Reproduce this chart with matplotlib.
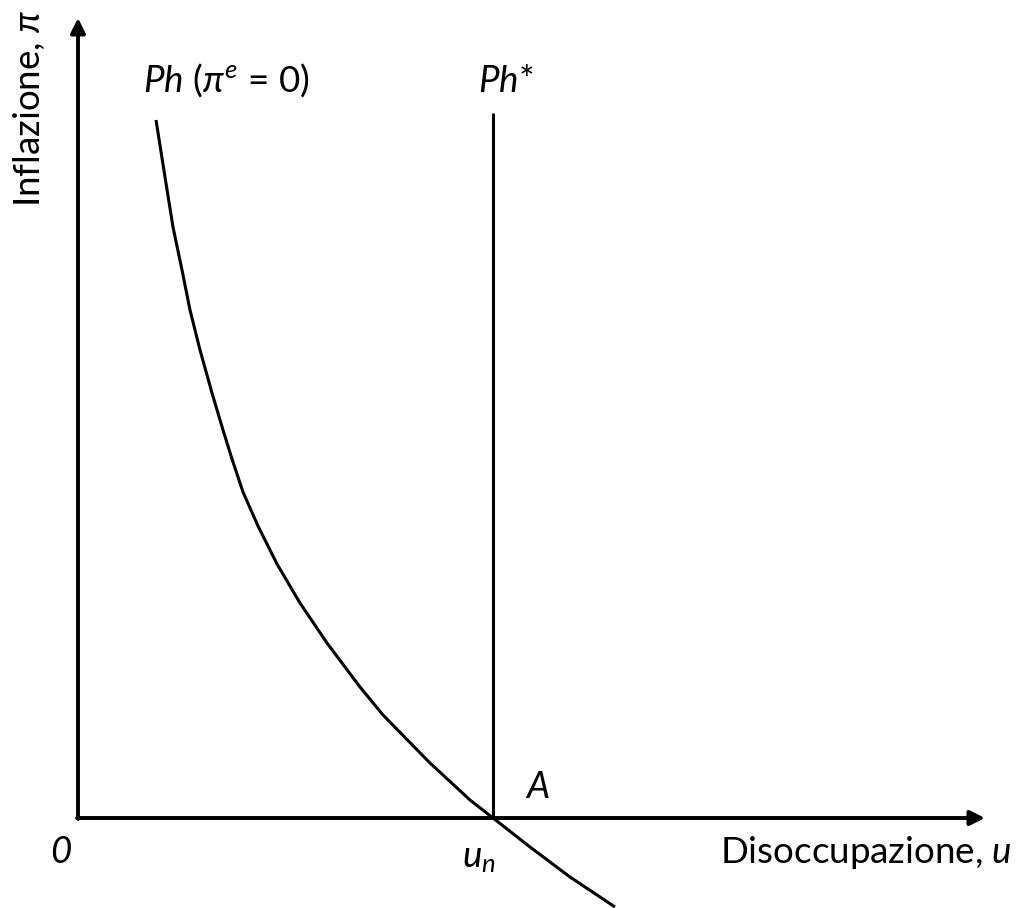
import matplotlib
matplotlib.use("Agg")
import matplotlib.pyplot as plt

# Police proche de Calibri
plt.rcParams['font.family'] = ['Lato', 'DejaVu Sans']
plt.rcParams['mathtext.fontset'] = 'custom'
plt.rcParams['mathtext.rm'] = 'Lato'
plt.rcParams['mathtext.it'] = 'Lato:italic'
plt.rcParams['mathtext.fallback'] = 'stix'

# Courbe de Phillips (pi^e = 0)
ph_u = [78, 87, 95, 104, 112, 122, 134, 145, 154, 165, 180, 199, 222, 249,
        282, 305, 352, 392, 415, 452, 492, 537]
ph_pi = [698, 641, 591, 548, 508, 468, 425, 388, 359, 326, 292, 254, 215, 175,
         131, 103, 55, 18, 0, -29, -59, -89]

# Courbe de long terme Ph* (verticale en u_n)
u_n = 415
ph_star_top = 705

# Axes
u_max = 907
pi_max = 800

fig = plt.figure(figsize=(10.18, 9.08), dpi=100)
ax = fig.add_axes([0, 0, 1, 1])
ax.set_xlim(-78, 940)
ax.set_ylim(-90, 818)
ax.axis('off')

arrow = dict(arrowstyle='-|>', color='black', lw=2.8, mutation_scale=22, shrinkA=0, shrinkB=0)
ax.annotate('', xy=(u_max, 0), xytext=(-1, 0), arrowprops=arrow)
ax.annotate('', xy=(0, pi_max), xytext=(0, -1), arrowprops=arrow)

ax.plot(ph_u, ph_pi, color='black', lw=2.2, solid_capstyle='butt', solid_joinstyle='round')
ax.plot([u_n, u_n], [0, ph_star_top], color='black', lw=2.2, solid_capstyle='butt')

fs = 26.5
ax.text(65, 726, r'$Ph$ ($\pi^e$ = 0)', fontsize=fs, ha='left', va='baseline')
ax.text(400, 726, r'$Ph$*', fontsize=fs, ha='left', va='baseline')
ax.text(447, 20, r'$A$', fontsize=fs, ha='left', va='baseline')
ax.text(-28, -45, '0', fontsize=fs, fontstyle='italic', ha='left', va='baseline')
ax.text(384, -49, r'$u_n$', fontsize=fs, ha='left', va='baseline')
ax.text(934, -45, r'Disoccupazione, $u$', fontsize=fs, ha='right', va='baseline')
ax.text(-31, 808, r'Inflazione, $\pi$', fontsize=fs, rotation=90, ha='right', va='top')

fig.savefig('out.png', dpi=100)
